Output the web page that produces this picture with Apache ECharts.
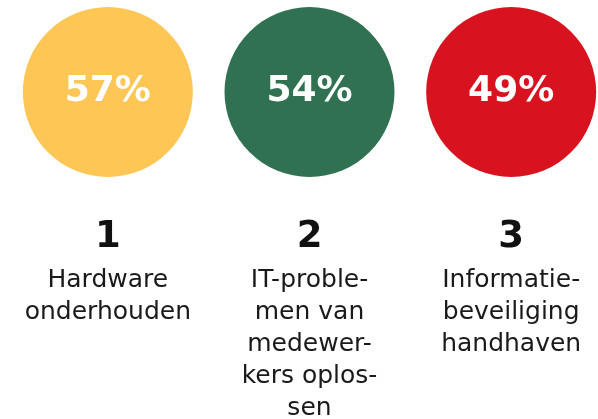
<!DOCTYPE html>
<html>
<head>
<meta charset="utf-8">
<script src="https://cdn.jsdelivr.net/npm/echarts@6/dist/echarts.min.js"></script>
<style>
  html, body { margin: 0; padding: 0; background: #fff; }
  #chart { width: 598px; height: 419px; }
</style>
</head>
<body>
<div id="chart"></div>
<script>
var ranks = ['1', '2', '3']
var labels = [
  'Hardware\nonderhouden',
  'IT-proble-\nmen van\nmedewer-\nkers oplos-\nsen',
  'Informatie-\nbeveiliging\nhandhaven'
]
var percentages = [57, 54, 49]
var colors = ['#fec655', '#2f7150', '#d8131f']

var font = 'DejaVu Sans'
var chart = echarts.init(document.getElementById('chart'))

var option = {
  animation: false,
  grid: { left: 7, top: 7, width: 605, height: 170, outerBoundsMode: 'none', containLabel: false },
  xAxis: {
    type: 'category',
    data: ranks,
    axisLine: { show: false },
    axisTick: { show: false },
    axisLabel: {
      margin: 33,
      interval: 0,
      formatter: function (value, idx) {
        return '{rank|' + value + '}\n' + labels[idx].split('\n').map(function (l) {
          return '{desc|' + l + '}'
        }).join('\n')
      },
      rich: {
        rank: { fontFamily: font, fontWeight: 'bold', fontSize: 37, lineHeight: 54, color: '#111' },
        desc: { fontFamily: font, fontSize: 25, lineHeight: 32, color: '#1a1a1a' }
      }
    }
  },
  yAxis: { type: 'value', min: 0, max: 1, show: false },
  series: [
    {
      type: 'scatter',
      symbol: 'circle',
      symbolSize: 170,
      data: percentages.map(function (v, i) {
        return { value: [i, 0.5], pct: v, itemStyle: { color: colors[i], opacity: 1 } }
      }),
      emphasis: { disabled: true },
      label: {
        show: true,
        position: 'inside',
        formatter: function (p) { return p.data.pct + '%' },
        fontFamily: font,
        fontWeight: 'bold',
        fontSize: 36,
        color: '#fff'
      }
    }
  ]
}

chart.setOption(option)
</script>
</body>
</html>
